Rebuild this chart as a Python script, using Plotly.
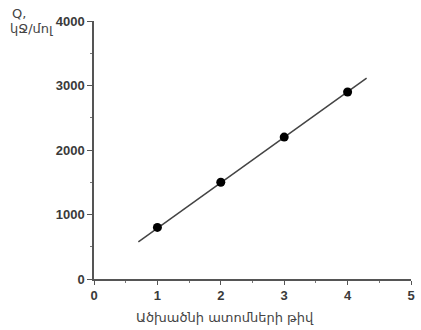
import plotly.graph_objects as go

atoms = [1, 2, 3, 4]
q_values = [800, 1500, 2200, 2900]
fit_x = [0.7, 4.3]
fit_y = [575, 3115]
x_ticks = [0, 1, 2, 3, 4, 5]
y_ticks = [0, 1000, 2000, 3000, 4000]

fig = go.Figure()
fig.add_trace(go.Scatter(x=fit_x, y=fit_y, mode="lines",
                         line=dict(color="#444444", width=1.5), showlegend=False))
fig.add_trace(go.Scatter(x=atoms, y=q_values, mode="markers",
                         marker=dict(color="black", size=9), showlegend=False))

tickfont = dict(family="Liberation Sans", size=13, color="#3a3a3a", weight="bold")
fig.update_xaxes(range=[0, 5], tickvals=x_ticks, showgrid=False, zeroline=False,
                 showline=True, linecolor="#555555", linewidth=1.5,
                 ticks="outside", ticklen=4, tickcolor="#555555",
                 minor=dict(ticks="outside", ticklen=2, dtick=0.5, tickcolor="#777777"),
                 tickfont=tickfont, ticklabeloverflow="allow")
fig.update_yaxes(range=[0, 4000], tickvals=y_ticks, showgrid=False, zeroline=False,
                 showline=True, linecolor="#555555", linewidth=1.5,
                 ticks="outside", ticklen=5, tickcolor="#555555",
                 minor=dict(ticks="outside", ticklen=2, dtick=500, tickcolor="#777777"),
                 tickfont=tickfont, ticklabeloverflow="allow")

labfont = dict(family="DejaVu Sans", size=13, color="#444444")
fig.add_annotation(text="Q,", xref="paper", yref="paper", x=-0.266, y=1.03,
                   xanchor="left", yanchor="middle", showarrow=False, font=labfont)
fig.add_annotation(text="կՋ/մոլ", xref="paper", yref="paper", x=-0.270, y=0.972,
                   xanchor="left", yanchor="middle", showarrow=False, font=labfont)
fig.add_annotation(text="Ածխածնի ատոմների թիվ", xref="paper", yref="paper",
                   x=0.412, y=-0.15, xanchor="center", yanchor="middle",
                   showarrow=False, font=labfont)

fig.update_layout(width=421, height=330, plot_bgcolor="white", paper_bgcolor="white",
                  margin=dict(l=94, r=6, t=21, b=51))
fig.write_html("out.html", config={"displayModeBar": False},
               post_script="document.body.style.margin='0';")
